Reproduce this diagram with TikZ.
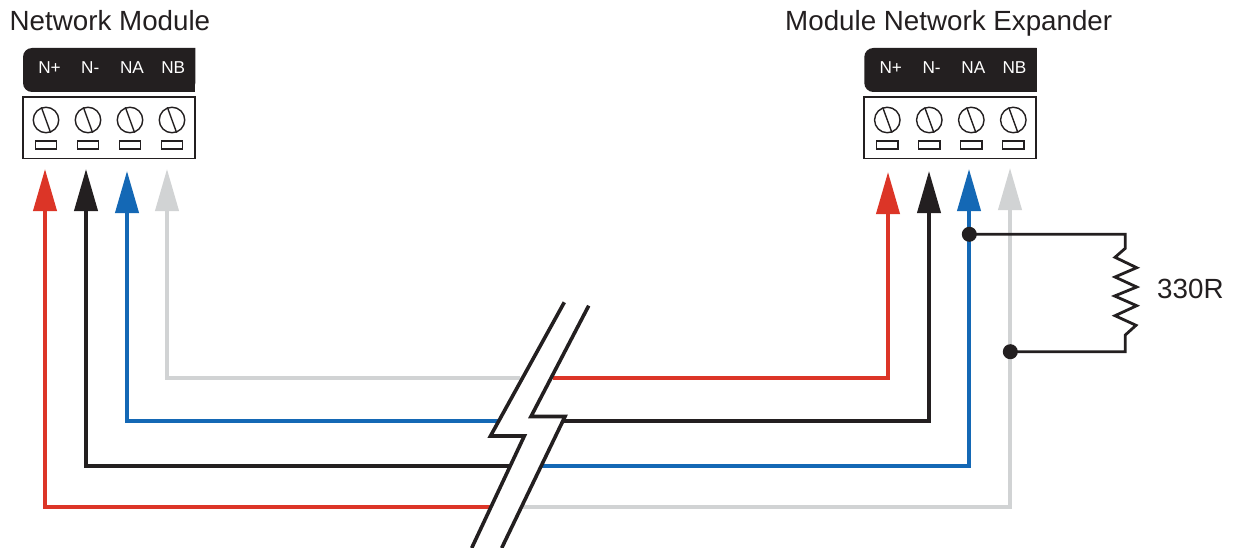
\documentclass[tikz,border=0pt]{standalone}
\usepackage{fontspec}
\setmainfont{Liberation Sans}
\usetikzlibrary{arrows.meta}
\definecolor{wred}{HTML}{DC3527}
\definecolor{wblack}{HTML}{231F20}
\definecolor{wblue}{HTML}{1468B5}
\definecolor{wgray}{HTML}{D1D3D4}
\tikzset{
  title/.style={anchor=base west,inner sep=0pt,text=wblack,font=\fontsize{27.75}{30}\selectfont},
  pinlabel/.style={anchor=base,inner sep=0pt,text=white,font=\fontsize{17.2}{20}\selectfont},
  screw/.style={circle,draw=wblack,line width=1.4pt,minimum size=25.5pt,inner sep=0pt},
  slot/.style={rectangle,draw=wblack,line width=1.4pt,minimum width=21.5pt,minimum height=8pt,inner sep=0pt},
  strip/.style={rectangle,draw=wblack,line width=1.6pt,fill=white,minimum width=172pt,minimum height=61.5pt,inner sep=0pt},
  wire/.style={line width=4pt,-{Triangle[length=42pt,width=23pt]}},
  breakline/.style={draw=wblack,line width=3.6pt,line join=miter},
  stub/.style={draw=wblack,line width=2.8pt,line join=miter},
  dot/.style={circle,fill=wblack,minimum size=15pt,inner sep=0pt}
}
\newcommand{\termblock}[2]{%
  \fill[wblack,rounded corners=9pt] (#1+172.3,48) -- (#1+0,48) -- (#1+0,92) -- (#1+172.3,92) [sharp corners] -- cycle;
  \fill[wblack] (#1+20,48) rectangle (#1+172.3,92);
  \node[strip] (#2strip) at (#1+85.8,127.8) {};
  \foreach \n/\dx/\lx/\pin in {a/23/26.5/N+,b/65/67.3/N-,c/107/109/NA,d/149/150.2/NB}{
    \node[pinlabel] (#2lab\n) at (#1+\lx,74) {\pin};
    \node[screw] (#2screw\n) at (#1+\dx,120) {};
    \draw[wblack,line width=1.4pt] (#2screw\n.110) -- (#2screw\n.290);
    \node[slot] (#2slot\n) at (#1+\dx,145) {};
  }%
}
\begin{document}
\begin{tikzpicture}[x=1pt,y=-1pt]
\useasboundingbox (0,0) rectangle (1233,548);
\fill[white] (0,0) rectangle (1233,548);
\node[title] (t1) at (9.5,30.5) {Network Module};
\node[title] (t2) at (785,30.5) {Module Network Expander};
\termblock{23}{L}
\termblock{864.3}{R}
% break ends
\coordinate (gL) at (520,378);
\coordinate (bL) at (498,421);
\coordinate (kL) at (510,466);
\coordinate (rL) at (490,507);
\coordinate (rR) at (553,378);
\coordinate (kR) at (562,421);
\coordinate (bR) at (541,466);
\coordinate (gR) at (522,507);
% tips
\coordinate (Lr) at (45,169);
\coordinate (Lk) at (86,169);
\coordinate (Lb) at (127,171);
\coordinate (Lg) at (167,169);
\coordinate (Rr) at (888,172);
\coordinate (Rk) at (929,171);
\coordinate (Rb) at (969,169);
\coordinate (Rg) at (1010,168);
% wires
\draw[wire,wgray] (gL) -| (Lg);
\draw[wire,wblue] (bL) -| (Lb);
\draw[wire,wblack] (kL) -| (Lk);
\draw[wire,wred] (rL) -| (Lr);
\draw[wire,wgray] (gR) -| (Rg);
\draw[wire,wred] (rR) -| (Rr);
\draw[wire,wblack] (kR) -| (Rk);
\draw[wire,wblue] (bR) -| (Rb);
% break
\coordinate (ba) at (564.3,302.3);
\coordinate (bb) at (490.5,436);
\coordinate (bc) at (524.3,436);
\coordinate (bd) at (471.7,548);
\coordinate (ca) at (588.7,305.7);
\coordinate (cb) at (531,416.5);
\coordinate (cc) at (565,416.5);
\coordinate (cd) at (501.7,548);
\draw[breakline] (ba) -- (bb) -- (bc) -- (bd);
\draw[breakline] (ca) -- (cb) -- (cc) -- (cd);
% resistor
\node[dot] (j1) at (969.3,234.3) {};
\node[dot] (j2) at (1010.3,351.7) {};
\node[title] (rv) at (1157,298) {330R};
\draw[stub] (j1.center) -- (1125.3,234.3) -- (1125.3,248.3) -- (1115,257.3) -- (1136.7,267.7) -- (1115,277) -- (1136.7,287) -- (1114.6,296) -- (1136.7,305.7) -- (1115,315.7) -- (1136,325.3) -- (1125.3,335) -- (1125.3,351.7) -- (j2.center);
\end{tikzpicture}
\end{document}
